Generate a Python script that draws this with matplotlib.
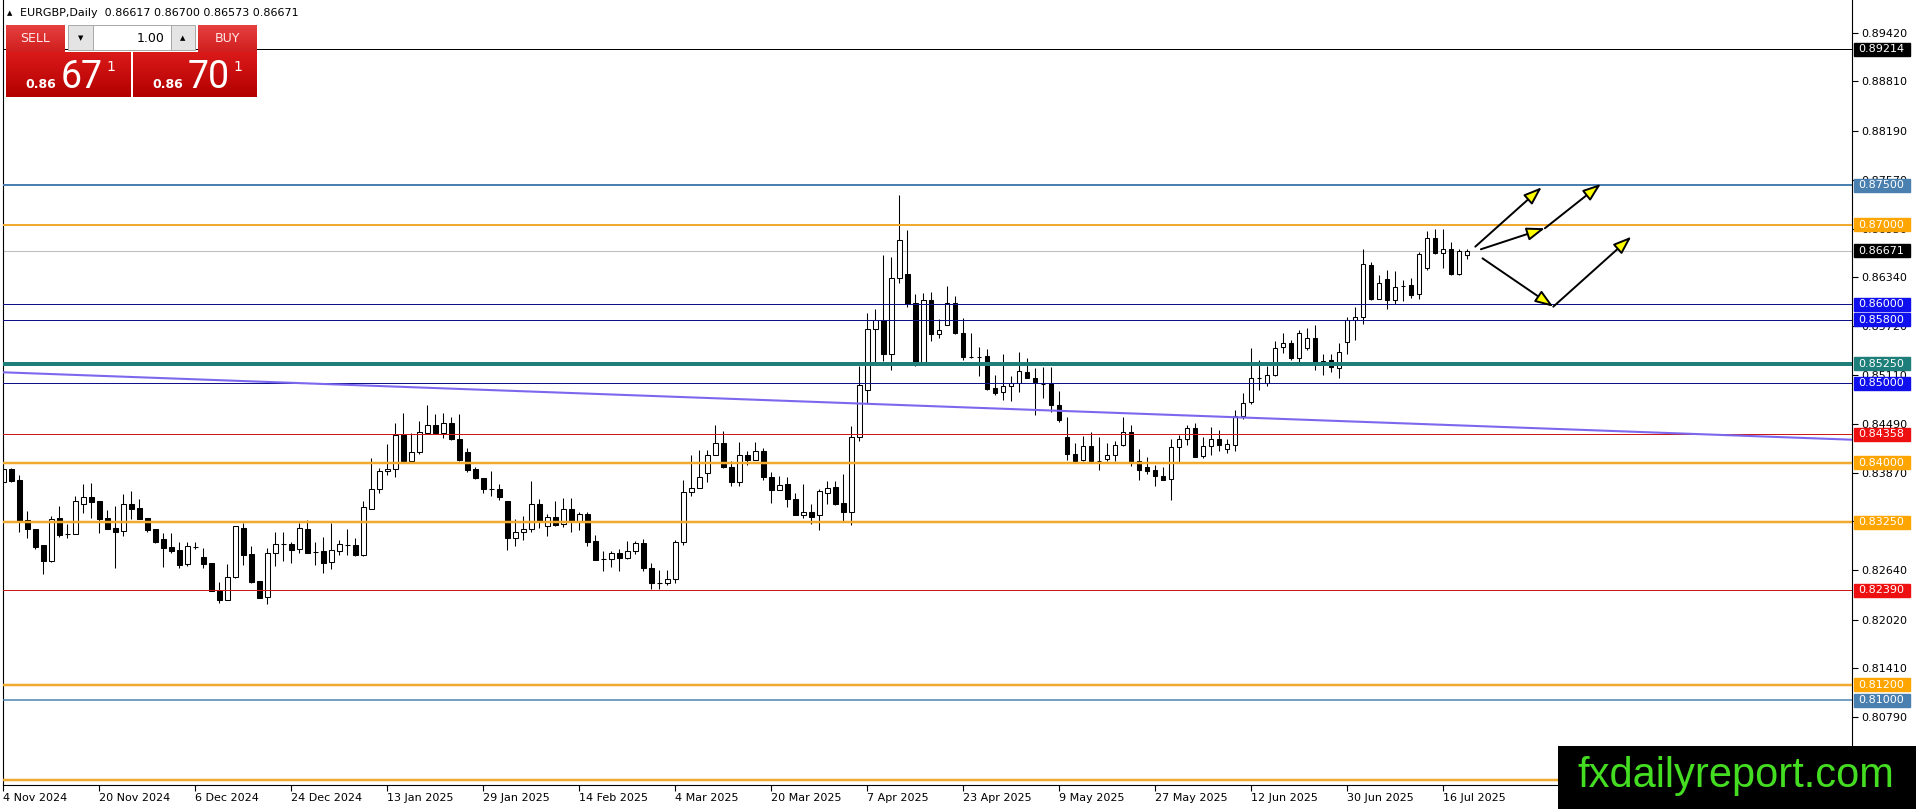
import numpy as np
import matplotlib.pyplot as plt
from matplotlib.patches import Rectangle, FancyArrowPatch
from matplotlib.transforms import blended_transform_factory

W, H = 1916, 809

# daily EURGBP bars, 4 Nov 2024 .. 21 Jul 2025
bar_open = [
    0.83761, 0.83917, 0.83782, 0.83277, 0.83160, 0.82958, 0.82764, 0.83298, 0.83097, 0.83097,
    0.83475, 0.83563, 0.83517, 0.83298, 0.83181, 0.83139, 0.83475, 0.83424, 0.83298, 0.83164,
    0.83038, 0.82937, 0.82895, 0.82722, 0.82941, 0.82815, 0.82731, 0.82382, 0.82268, 0.82554,
    0.83181, 0.82848, 0.82508, 0.82302, 0.82857, 0.82970, 0.82970, 0.82907, 0.83164, 0.82878,
    0.82886, 0.82743, 0.82891, 0.82962, 0.82962, 0.82836, 0.83420, 0.83664, 0.83891, 0.83917,
    0.84350, 0.84022, 0.84139, 0.84379, 0.84476, 0.84379, 0.84497, 0.84295, 0.84131, 0.83917,
    0.83803, 0.83664, 0.83664, 0.83517, 0.83046, 0.83122, 0.83160, 0.83475, 0.83202, 0.83311,
    0.83223, 0.83416, 0.83269, 0.83353, 0.83012, 0.82785, 0.82785, 0.82857, 0.82794, 0.82886,
    0.82983, 0.82675, 0.82486, 0.82486, 0.82533, 0.82998, 0.83628, 0.83683, 0.83871, 0.84098,
    0.84249, 0.83951, 0.83754, 0.84098, 0.84039, 0.84144, 0.83825, 0.83657, 0.83733, 0.83544,
    0.83334, 0.83376, 0.83334, 0.83619, 0.83699, 0.83490, 0.83376, 0.84320, 0.84916, 0.85684,
    0.85797, 0.85369, 0.86325, 0.86376, 0.86011, 0.85265, 0.86050, 0.85622, 0.85735, 0.86013,
    0.85634, 0.85336, 0.85336, 0.85340, 0.84937, 0.84887, 0.84962, 0.85004, 0.85146, 0.85067,
    0.84992, 0.85000, 0.84727, 0.84328, 0.84109, 0.84034, 0.84214, 0.84025, 0.84046, 0.84101,
    0.84223, 0.84382, 0.84017, 0.83941, 0.83907, 0.83836, 0.83794, 0.84202, 0.84298, 0.84437,
    0.84088, 0.84214, 0.84298, 0.84172, 0.84226, 0.84591, 0.84768, 0.85074, 0.84999, 0.85103,
    0.85460, 0.85506, 0.85326, 0.85443, 0.85569, 0.85255, 0.85292, 0.85192, 0.85527, 0.85796,
    0.85842, 0.86488, 0.86069, 0.86312, 0.86048, 0.86228, 0.86237, 0.86123, 0.86451, 0.86837,
    0.86640, 0.86690, 0.86384, 0.86617,
]
bar_high = [
    0.84181, 0.83929, 0.83845, 0.83395, 0.83160, 0.82958, 0.83332, 0.83454, 0.83227, 0.83580,
    0.83731, 0.83740, 0.83517, 0.83403, 0.83454, 0.83605, 0.83643, 0.83538, 0.83298, 0.83164,
    0.83109, 0.83109, 0.83004, 0.82996, 0.83004, 0.82928, 0.82731, 0.82499, 0.82718, 0.83202,
    0.83235, 0.82949, 0.82508, 0.82928, 0.83126, 0.83122, 0.83004, 0.83244, 0.83277, 0.82996,
    0.83059, 0.83244, 0.83025, 0.83160, 0.83046, 0.83517, 0.84055, 0.83929, 0.84236, 0.84505,
    0.84631, 0.84371, 0.84526, 0.84728, 0.84615, 0.84623, 0.84572, 0.84610, 0.84190, 0.83950,
    0.83803, 0.83896, 0.83727, 0.83517, 0.83286, 0.83332, 0.83769, 0.83542, 0.83349, 0.83517,
    0.83551, 0.83551, 0.83374, 0.83374, 0.83088, 0.82886, 0.82891, 0.82907, 0.83012, 0.83017,
    0.83033, 0.82734, 0.82650, 0.82650, 0.83019, 0.83783, 0.84098, 0.84161, 0.84161, 0.84475,
    0.84404, 0.84027, 0.84266, 0.84152, 0.84266, 0.84186, 0.83888, 0.83838, 0.83825, 0.83615,
    0.83733, 0.83473, 0.83670, 0.83775, 0.83775, 0.83859, 0.84459, 0.85222, 0.85885, 0.85935,
    0.86619, 0.86594, 0.87374, 0.86929, 0.86124, 0.86139, 0.86155, 0.85811, 0.86231, 0.86105,
    0.85824, 0.85634, 0.85454, 0.85433, 0.85105, 0.85370, 0.85088, 0.85399, 0.85315, 0.85189,
    0.85202, 0.85202, 0.84908, 0.84571, 0.84248, 0.84340, 0.84382, 0.84319, 0.84248, 0.84277,
    0.84580, 0.84475, 0.84172, 0.84076, 0.83975, 0.83941, 0.84298, 0.84349, 0.84479, 0.84496,
    0.84327, 0.84453, 0.84411, 0.84298, 0.84663, 0.84873, 0.85443, 0.85297, 0.85221, 0.85536,
    0.85632, 0.85548, 0.85670, 0.85695, 0.85737, 0.85368, 0.85376, 0.85506, 0.85842, 0.85968,
    0.86690, 0.86530, 0.86367, 0.86426, 0.86417, 0.86304, 0.86325, 0.86661, 0.86921, 0.86950,
    0.86954, 0.86782, 0.86690, 0.86700,
]
bar_low = [
    0.83761, 0.83761, 0.83130, 0.83054, 0.82907, 0.82592, 0.82752, 0.83067, 0.83046, 0.83097,
    0.83370, 0.83307, 0.83118, 0.83160, 0.82668, 0.83080, 0.83290, 0.83290, 0.83130, 0.82991,
    0.82689, 0.82857, 0.82676, 0.82701, 0.82907, 0.82676, 0.82386, 0.82234, 0.82268, 0.82541,
    0.82710, 0.82487, 0.82289, 0.82213, 0.82701, 0.82764, 0.82739, 0.82857, 0.82865, 0.82710,
    0.82613, 0.82659, 0.82840, 0.82836, 0.82827, 0.82827, 0.83412, 0.83622, 0.83845, 0.83824,
    0.84022, 0.84013, 0.84106, 0.84371, 0.84371, 0.84308, 0.84287, 0.84022, 0.83887, 0.83790,
    0.83622, 0.83580, 0.83530, 0.82899, 0.82954, 0.83025, 0.83130, 0.83172, 0.83080, 0.83206,
    0.83193, 0.83122, 0.83151, 0.82954, 0.82773, 0.82638, 0.82689, 0.82638, 0.82785, 0.82844,
    0.82634, 0.82411, 0.82411, 0.82461, 0.82482, 0.82965, 0.83578, 0.83683, 0.83754, 0.84098,
    0.83934, 0.83712, 0.83712, 0.83972, 0.84039, 0.83787, 0.83490, 0.83657, 0.83439, 0.83334,
    0.83305, 0.83221, 0.83146, 0.83481, 0.83469, 0.83250, 0.83209, 0.84278, 0.84748, 0.85272,
    0.85285, 0.85172, 0.86271, 0.85969, 0.85222, 0.85256, 0.85538, 0.85567, 0.85735, 0.85622,
    0.85294, 0.85319, 0.85088, 0.84916, 0.84853, 0.84790, 0.84773, 0.84887, 0.85067, 0.84601,
    0.84811, 0.84634, 0.84508, 0.84034, 0.84013, 0.84017, 0.84013, 0.83912, 0.84025, 0.84025,
    0.84214, 0.83954, 0.83781, 0.83857, 0.83710, 0.83781, 0.83529, 0.84013, 0.84223, 0.84067,
    0.84058, 0.84100, 0.84151, 0.84117, 0.84151, 0.84549, 0.84738, 0.84915, 0.84969, 0.85095,
    0.85389, 0.85297, 0.85255, 0.85422, 0.85171, 0.85103, 0.85150, 0.85062, 0.85376, 0.85548,
    0.85754, 0.86048, 0.86060, 0.85943, 0.86006, 0.86039, 0.86081, 0.86069, 0.86426, 0.86635,
    0.86459, 0.86363, 0.86367, 0.86573,
]
bar_close = [
    0.83917, 0.83774, 0.83265, 0.83160, 0.82941, 0.82764, 0.83290, 0.83088, 0.83097, 0.83517,
    0.83563, 0.83509, 0.83290, 0.83164, 0.83122, 0.83475, 0.83416, 0.83290, 0.83151, 0.83004,
    0.82928, 0.82890, 0.82710, 0.82949, 0.82941, 0.82722, 0.82386, 0.82268, 0.82554, 0.83202,
    0.82836, 0.82495, 0.82298, 0.82857, 0.82970, 0.82970, 0.82899, 0.83172, 0.82865, 0.82878,
    0.82739, 0.82895, 0.82975, 0.82962, 0.82836, 0.83437, 0.83668, 0.83896, 0.83917, 0.84350,
    0.84022, 0.84139, 0.84383, 0.84476, 0.84379, 0.84497, 0.84295, 0.84034, 0.83908, 0.83803,
    0.83664, 0.83664, 0.83572, 0.83046, 0.83122, 0.83160, 0.83475, 0.83269, 0.83311, 0.83214,
    0.83416, 0.83265, 0.83349, 0.83004, 0.82773, 0.82785, 0.82857, 0.82794, 0.82886, 0.82983,
    0.82676, 0.82482, 0.82486, 0.82533, 0.82998, 0.83628, 0.83683, 0.83825, 0.84098, 0.84249,
    0.83943, 0.83754, 0.84098, 0.84039, 0.84144, 0.83817, 0.83657, 0.83720, 0.83544, 0.83334,
    0.83376, 0.83313, 0.83641, 0.83683, 0.83481, 0.83376, 0.84329, 0.84979, 0.85684, 0.85797,
    0.85369, 0.86325, 0.86804, 0.85998, 0.85243, 0.86050, 0.85622, 0.85672, 0.86013, 0.85630,
    0.85328, 0.85336, 0.85336, 0.84929, 0.84878, 0.84971, 0.85004, 0.85160, 0.85067, 0.85013,
    0.84992, 0.84727, 0.84542, 0.84109, 0.84017, 0.84214, 0.84025, 0.84025, 0.84101, 0.84227,
    0.84382, 0.84013, 0.83912, 0.83899, 0.83828, 0.83786, 0.84202, 0.84298, 0.84437, 0.84076,
    0.84214, 0.84298, 0.84222, 0.84235, 0.84591, 0.84759, 0.85066, 0.85074, 0.85103, 0.85452,
    0.85506, 0.85326, 0.85632, 0.85569, 0.85263, 0.85284, 0.85208, 0.85401, 0.85796, 0.85842,
    0.86501, 0.86069, 0.86262, 0.86048, 0.86220, 0.86228, 0.86115, 0.86627, 0.86837, 0.86648,
    0.86690, 0.86384, 0.86669, 0.86671,
]

date_labels = ["4 Nov 2024", "20 Nov 2024", "6 Dec 2024", "24 Dec 2024", "13 Jan 2025",
               "29 Jan 2025", "14 Feb 2025", "4 Mar 2025", "20 Mar 2025", "7 Apr 2025",
               "23 Apr 2025", "9 May 2025", "27 May 2025", "12 Jun 2025", "30 Jun 2025",
               "16 Jul 2025"]
date_bars = [0, 12, 24, 36, 48, 60, 72, 84, 96, 108, 120, 132, 144, 156, 168, 180]

price_ticks = [0.89420, 0.88810, 0.88190, 0.87570, 0.86950, 0.86340, 0.85720, 0.85110,
               0.84490, 0.83870, 0.83260, 0.82640, 0.82020, 0.81410, 0.80790]

# horizontal levels drawn on the chart
level_prices = [0.89214, 0.87500, 0.87000, 0.86000, 0.85800, 0.85250, 0.85000,
                0.84358, 0.84000, 0.83250, 0.82390, 0.81200, 0.81000, 0.80000]
level_colors = ["#000000", "#4a80b0", "#f0aa30", "#10108a", "#10108a", "#1e7f7a", "#10108a",
                "#cc1a1a", "#f0aa30", "#f0aa30", "#cc1a1a", "#f0aa30", "#4a80b0", "#f0aa30"]
level_px = [1, 2, 2, 1, 1, 4, 1, 1, 2.5, 2.5, 1, 2.5, 1.5, 2.5]
label_colors = ["#000000", "#4a80b0", "#ffa500", "#1010ee", "#1010ee", "#1e7f7a", "#1010ee",
                "#ee1010", "#ffa500", "#ffa500", "#ee1010", "#ffa500", "#4a80b0", "#ffa500"]

last_price = 0.86671
header = "EURGBP,Daily  0.86617 0.86700 0.86573 0.86671"

trend_bars = [0, 231]
trend_prices = [0.8514, 0.8429]

# scenario arrows (bar, price) -> (bar, price)
arrow_from = [(184.0, 0.86725), (184.7, 0.86692), (192.7, 0.86957), (184.9, 0.86578), (193.75, 0.85968)]
arrow_to = [(192.3, 0.87474), (192.7, 0.86957), (199.7, 0.87516), (193.75, 0.85968), (203.5, 0.86851)]

fig = plt.figure(figsize=(W / 100, H / 100), dpi=100)
fig.patch.set_facecolor("white")
ax = fig.add_axes([3 / W, 24 / H, 1849 / W, 785 / H])
ax.set_xlim(-0.04, 231.09)
ax.set_ylim(0.799339, 0.898367)

# candles
o = np.array(bar_open)
h = np.array(bar_high)
l = np.array(bar_low)
c = np.array(bar_close)
x = np.arange(len(o))
up = c >= o
ax.vlines(x, l, h, color="black", lw=0.75, zorder=2)
ax.bar(x, np.abs(c - o), bottom=np.minimum(o, c), width=0.55,
       color=np.where(up, "white", "black"), edgecolor="black", linewidth=0.75, zorder=2.2)

# levels
ax.axhline(last_price, color="#c0c0c0", lw=0.8, zorder=1.8)
for p, col, w in zip(level_prices, level_colors, level_px):
    ax.axhline(p, color=col, lw=w * 0.72, zorder=3)
ax.plot(trend_bars, trend_prices, color="#7b68ee", lw=1.5, zorder=3)

for a, b in zip(arrow_from, arrow_to):
    ax.add_patch(FancyArrowPatch(a, b, arrowstyle="-|>,head_length=1.1,head_width=0.4",
                                 mutation_scale=10, fc="#ffff00", ec="black", lw=1.4,
                                 shrinkA=0, shrinkB=0, zorder=6))

# axes look
for side in ["top"]:
    ax.spines[side].set_visible(False)
for side in ["left", "right", "bottom"]:
    ax.spines[side].set_linewidth(0.8)
ax.yaxis.tick_right()
ax.set_yticks(price_ticks)
ax.set_yticklabels(["%.5f" % t for t in price_ticks])
ax.tick_params(axis="y", length=4, pad=3, labelsize=8, width=0.8)
ax.set_xticks(date_bars)
ax.set_xticklabels(date_labels, ha="left")
ax.tick_params(axis="x", length=4, pad=2, labelsize=8, width=0.8)

# price labels on the scale
blend = blended_transform_factory(fig.transFigure, ax.transData)
half = 6.5 / 7927
label_list = list(zip(level_prices, label_colors)) + [(last_price, "#000000")]
for p, bg in label_list:
    ax.add_patch(Rectangle((1854 / W, p - half), 56 / W, 2 * half, transform=blend,
                           color=bg, clip_on=False, zorder=5))
    ax.text(1858 / W, p, "%.5f" % p, transform=blend, color="white", fontsize=8,
            va="center", ha="left", clip_on=False, zorder=6)

# header
fig.text(7 / W, 1 - 13 / H, "\u25b2", fontsize=5, va="center")
fig.text(20 / W, 1 - 13 / H, header, fontsize=8, va="center")


def box(x0, y0, x1, y1, **kw):
    fig.add_artist(Rectangle((x0 / W, 1 - y1 / H), (x1 - x0) / W, (y1 - y0) / H,
                             transform=fig.transFigure, **kw))


def gradient(x0, y0, x1, y1, top, bottom):
    t = np.linspace(0, 1, y1 - y0)[:, None, None]
    img = (1 - t) * np.array(top) + t * np.array(bottom)
    img = np.repeat(img, x1 - x0, axis=1)
    fig.figimage(img, xo=x0, yo=H - y1, origin="upper", zorder=8)


# one-click trading panel
gradient(6, 25, 65, 52, (0.90, 0.25, 0.25), (0.82, 0.12, 0.12))
gradient(198, 25, 257, 52, (0.90, 0.25, 0.25), (0.82, 0.12, 0.12))
gradient(6, 52, 131, 97, (0.86, 0.10, 0.10), (0.70, 0.0, 0.0))
gradient(133, 52, 257, 97, (0.86, 0.10, 0.10), (0.70, 0.0, 0.0))
box(68, 25, 93, 50, fc="#e4e4e4", ec="#a8a8a8", lw=0.7, zorder=9)
box(93, 25, 171, 50, fc="white", ec="#a8a8a8", lw=0.7, zorder=9)
box(171, 25, 195, 50, fc="#e4e4e4", ec="#a8a8a8", lw=0.7, zorder=9)

fig.text(35.5 / W, 1 - 38 / H, "SELL", fontsize=9, color="#ffe8e8", ha="center", va="center", zorder=10)
fig.text(227.5 / W, 1 - 38 / H, "BUY", fontsize=9, color="#ffe8e8", ha="center", va="center", zorder=10)
fig.text(80.5 / W, 1 - 38 / H, "\u25bc", fontsize=5, ha="center", va="center", zorder=10)
fig.text(183 / W, 1 - 38 / H, "\u25b2", fontsize=5, ha="center", va="center", zorder=10)
fig.text(165 / W, 1 - 38 / H, "1.00", fontsize=9, ha="right", va="center", zorder=10)

for x0, big in [(25, "67"), (152, "70")]:
    fig.text(x0 / W, 1 - 88 / H, "0.86", fontsize=9, weight="bold", color="white", va="baseline", zorder=10)
    fig.text((x0 + 36) / W, 1 - 88 / H, big, fontsize=27, family="Roboto", color="white",
             va="baseline", zorder=10)
    fig.text((x0 + 81) / W, 1 - 71 / H, "1", fontsize=10, color="white", va="baseline", zorder=10)

# watermark
box(1558, 746, 1916, 809, fc="black", ec="none", zorder=11)
fig.text(1736 / W, 1 - 787 / H, "fxdailyreport.com", fontsize=30, family="Liberation Sans",
         color="#44dd22", ha="center", va="baseline", zorder=12)

fig.savefig("out.png", dpi=100)
